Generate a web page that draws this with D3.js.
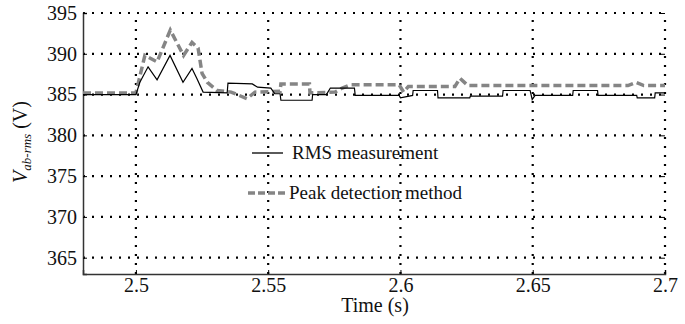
<!DOCTYPE html>
<html><head><meta charset="utf-8"><script src="https://cdn.jsdelivr.net/npm/d3@7"></script></head>
<body style="margin:0">
<svg id="chart" width="685" height="324"></svg>
<script>
// RMS measurement (solid black)
var rmsTime = [2.48, 2.5, 2.5015, 2.5046, 2.508, 2.5129, 2.5178, 2.5212, 2.523, 2.5254, 2.5345, 2.5348, 2.544, 2.546, 2.551, 2.5525,
               2.5545, 2.5548, 2.5666, 2.5668, 2.572, 2.5735, 2.5826, 2.5829, 2.5995, 2.6, 2.6046, 2.6048, 2.614, 2.6142, 2.6262,
               2.6264, 2.6386, 2.6388, 2.649, 2.6498, 2.6509, 2.6651, 2.6653, 2.6745, 2.6747, 2.6893, 2.6895, 2.6961, 2.6963, 2.7];
var rmsVal  = [385.0, 385.0, 386.5, 388.4, 386.8, 389.8, 386.5, 388.2, 387.0, 385.3, 385.2, 386.4, 386.3, 385.9, 385.8, 385.1,
               385.1, 384.3, 384.3, 385.0, 385.0, 385.8, 385.8, 384.9, 384.9, 384.6, 384.9, 385.5, 385.5, 384.6, 384.6,
               384.8, 384.8, 385.5, 385.5, 384.4, 384.9, 384.9, 385.5, 385.5, 384.9, 384.9, 384.6, 384.6, 385.2, 385.2];

// Peak detection method (gray dashed)
var peakTime = [2.48, 2.5, 2.5034, 2.508, 2.513, 2.518, 2.5212, 2.5235, 2.525, 2.527, 2.5306, 2.536, 2.542, 2.545, 2.5545,
                2.5548, 2.5656, 2.5658, 2.5753, 2.578, 2.581, 2.5995, 2.6012, 2.603, 2.6206, 2.6225, 2.6255, 2.686, 2.689, 2.692, 2.7];
var peakVal  = [385.2, 385.2, 389.8, 389.0, 392.9, 389.8, 391.4, 390.7, 387.6, 386.5, 385.5, 385.3, 384.5, 385.3, 385.4,
                386.3, 386.3, 385.2, 385.3, 385.8, 386.2, 386.2, 385.3, 386.0, 386.0, 387.0, 386.1, 386.1, 386.5, 386.1, 386.1];

var xTicks = [2.5, 2.55, 2.6, 2.65, 2.7];
var yTicks = [365, 370, 375, 380, 385, 390, 395];

var svg = d3.select('#chart');
var L = 83, R = 665, T = 13, B = 274;
var serif = '"Liberation Serif"';

var x = d3.scaleLinear().domain([2.48, 2.7]).range([L, R]);
var y = d3.scaleLinear().domain([363, 395]).range([B, T]);

// dotted grid
var grid = svg.append('g')
    .attr('stroke', '#000').attr('stroke-width', 2.2).attr('stroke-dasharray', '2,7');
grid.selectAll('.gx').data(xTicks).enter().append('line')
    .attr('x1', d => x(d)).attr('x2', d => x(d)).attr('y1', B).attr('y2', T);
grid.selectAll('.gy').data(yTicks).enter().append('line')
    .attr('x1', L).attr('x2', R).attr('y1', d => y(d)).attr('y2', d => y(d));

// axes (ticks point inward)
var gx = svg.append('g').attr('transform', 'translate(0,' + B + ')')
    .call(d3.axisBottom(x).tickValues(xTicks).tickSize(-4).tickPadding(4).tickFormat(d3.format('')));
gx.attr('font-family', null).attr('font-size', null);
gx.select('.domain').attr('stroke', '#333').attr('stroke-width', 1.5);
gx.selectAll('text').style('font-family', serif).attr('font-size', 20).attr('fill', '#111');

var gy = svg.append('g').attr('transform', 'translate(' + L + ',0)')
    .call(d3.axisLeft(y).tickValues(yTicks).tickSize(-4).tickPadding(6));
gy.attr('font-family', null).attr('font-size', null);
gy.select('.domain').attr('stroke', '#333').attr('stroke-width', 1.5);
gy.selectAll('text').style('font-family', serif).attr('font-size', 20).attr('fill', '#111');

svg.append('g').attr('transform', 'translate(' + R + ',0)')
    .call(d3.axisRight(y).tickValues(yTicks).tickSize(-4).tickFormat(''))
    .call(g => g.select('.domain').remove());

// lines
var line = d3.line().x(d => x(d[0])).y(d => y(d[1]));

svg.append('path')
    .datum(d3.zip(peakTime, peakVal))
    .attr('fill', 'none').attr('stroke', '#858585').attr('stroke-width', 3.5)
    .attr('stroke-dasharray', '8,4').attr('d', line);
svg.append('path')
    .datum(d3.zip(rmsTime, rmsVal))
    .attr('fill', 'none').attr('stroke', '#000').attr('stroke-width', 1.2)
    .attr('d', line);

// legend
function label(xp, yp, size, txt) {
  return svg.append('text').attr('x', xp).attr('y', yp)
      .style('font-family', serif).attr('font-size', size).attr('fill', '#111').text(txt);
}
svg.append('line').attr('x1', 252).attr('x2', 283).attr('y1', 153).attr('y2', 153)
    .attr('stroke', '#000').attr('stroke-width', 1.3);
label(292, 159, 19, 'RMS measurement');
svg.append('line').attr('x1', 248).attr('x2', 288).attr('y1', 193).attr('y2', 193)
    .attr('stroke', '#858585').attr('stroke-width', 3.5).attr('stroke-dasharray', '7,3');
label(289, 199, 19, 'Peak detection method');

// axis titles
label(375, 312, 20, 'Time (s)').attr('text-anchor', 'middle');
var yl = svg.append('text').attr('transform', 'translate(27,142) rotate(-90)')
    .attr('text-anchor', 'middle').style('font-family', serif).attr('font-size', 20).attr('fill', '#111');
yl.append('tspan').attr('font-style', 'italic').text('V');
yl.append('tspan').attr('font-style', 'italic').attr('font-size', 13).attr('dy', 4).text('ab-rms');
yl.append('tspan').attr('dy', -4).text(' (V)');
</script>
</body></html>
